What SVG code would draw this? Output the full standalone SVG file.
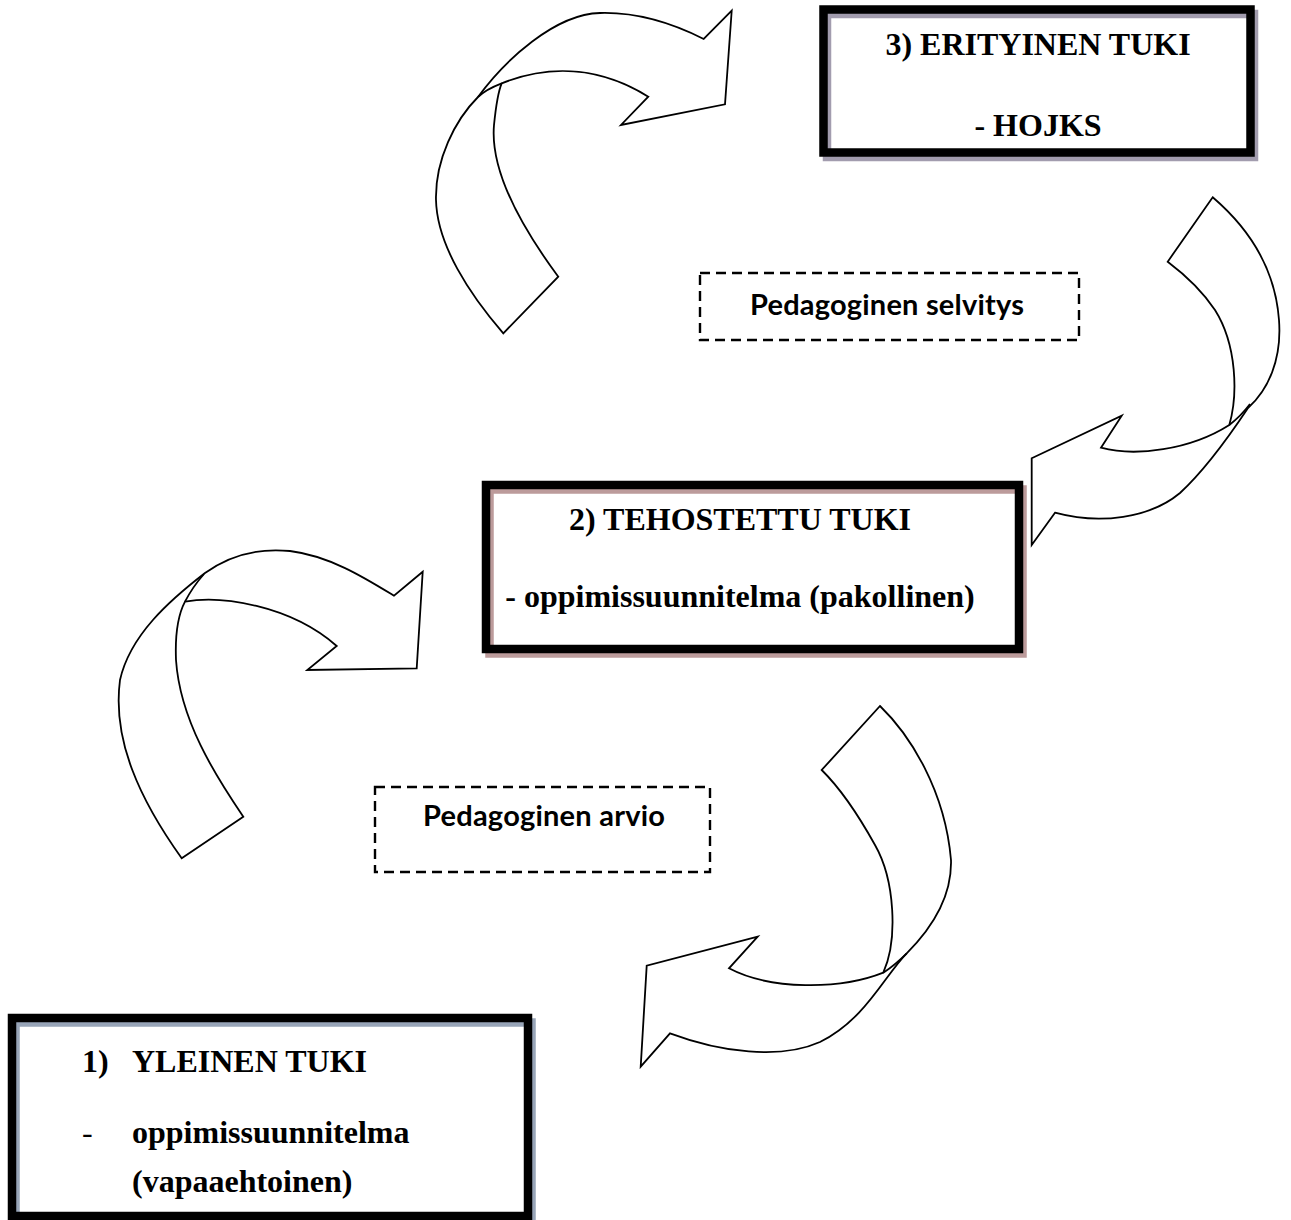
<svg xmlns="http://www.w3.org/2000/svg" width="1291" height="1220" viewBox="0 0 1291 1220">
<style>
.arrow{fill:#fff;stroke:#000;stroke-width:1.8;stroke-linejoin:miter}
.seam{fill:none;stroke:#000;stroke-width:1.8}
.box{fill:none;stroke:#000;stroke-width:8.5}
.sh{fill:none;stroke-width:8.5}
.dash{fill:#fff;stroke:#000;stroke-width:2.4;stroke-dasharray:10 6}
.t{font-family:"Liberation Serif","Times New Roman",serif;font-weight:bold;font-size:32px;fill:#000}
.c{font-family:Lato,"Open Sans",sans-serif;font-weight:bold;font-size:29px;fill:#000}
</style>
<rect width="1291" height="1220" fill="#fff"/>
<g id="connectors">
  <g id="arrow-top-left">
    <path class="arrow" d="M731.7,10.7 L703.7,39 C670,22 635,12 600,13 C555,14 505,60 478,97 C455,120 435,160 436,200 C437,245 470,295 503.3,333.3 L558.3,276.7 C520,225 490,170 494,125 C496,105 498,92 501.7,83.3 C555,62 605,70 648.3,96.7 L621,125 L725,104.3 Z"/>
    <path class="seam" d="M501.7,83.3 C492,87 484,91 478,97"/>
  </g>
  <g id="arrow-right">
    <path class="arrow" d="M1212.7,197.3 C1245,225 1275,265 1279,320 C1282,360 1268,390 1248,408 C1230,435 1205,470 1180,493 C1150,518 1100,525 1055,512.7 L1031.7,545 L1031.7,458.3 L1121.7,415.7 L1101,447.7 C1135,457 1190,450 1229.3,425 C1238,395 1237,345 1215,310 C1203,292 1188,277 1167.7,261.7 Z"/>
    <path class="seam" d="M1229.3,425 C1237,419 1244,412 1250,404"/>
  </g>
  <g id="arrow-left-middle">
    <path class="arrow" d="M422.7,571.7 L394,595.7 C365,578 330,556 290,551 C260,548 230,555 205,573 C170,600 130,635 120,680 C112,740 140,800 181.7,858.3 L243.3,816.7 C215,775 180,720 176,660 C175,635 178,615 185,601.7 C220,595 290,605 336.7,646 L307.3,670 L416.7,668.3 Z"/>
    <path class="seam" d="M185,601.7 C190,592 196,583 204,574"/>
  </g>
  <g id="arrow-bottom-right">
    <path class="arrow" d="M880,706 C910,735 945,790 951,860 C952,895 935,925 906.7,953.3 C885,975 865,1020 820,1042 C780,1060 720,1052 670,1033.3 L640.7,1066.7 L646.7,965.7 L757.7,936.7 L729,968.3 C770,990 840,990 883.3,972.7 C898,940 895,880 875,845 C860,818 842,790 821.7,770 Z"/>
    <path class="seam" d="M883.3,972.7 C892,967 900,960 906.7,953.3"/>
  </g>
</g>
<g id="node-3">
  <rect class="sh" stroke="#a29cae" x="827" y="14" width="427" height="143"/>
  <rect class="box" x="823.5" y="9.5" width="427" height="143"/>
  <text class="t" x="1038" y="55" text-anchor="middle">3) ERITYINEN TUKI</text>
  <text class="t" x="1038" y="136" text-anchor="middle">- HOJKS</text>
</g>
<g id="node-selvitys">
  <rect class="dash" x="700" y="273" width="379" height="67"/>
  <text class="c" x="887" y="315" text-anchor="middle" textLength="274">Pedagoginen selvitys</text>
</g>
<g id="node-2">
  <rect class="sh" stroke="#bc9b9b" x="489.5" y="489.5" width="533" height="164"/>
  <rect class="box" x="486" y="485" width="533" height="164"/>
  <text class="t" x="740" y="530" text-anchor="middle">2) TEHOSTETTU TUKI</text>
  <text class="t" x="740" y="607" text-anchor="middle">- oppimissuunnitelma (pakollinen)</text>
</g>
<g id="node-arvio">
  <rect class="dash" x="375" y="787" width="335" height="85"/>
  <text class="c" x="544" y="826" text-anchor="middle" textLength="242">Pedagoginen arvio</text>
</g>
<g id="node-1">
  <rect class="sh" stroke="#98a5b8" x="15.5" y="1022.5" width="516" height="198"/>
  <rect class="box" x="12" y="1018" width="516" height="198"/>
  <text class="t" x="82" y="1072">1)</text>
  <text class="t" x="132" y="1072">YLEINEN TUKI</text>
  <text class="t" x="82" y="1143" style="font-weight:normal">-</text>
  <text class="t" x="132" y="1143">oppimissuunnitelma</text>
  <text class="t" x="132" y="1192">(vapaaehtoinen)</text>
</g>
</svg>
